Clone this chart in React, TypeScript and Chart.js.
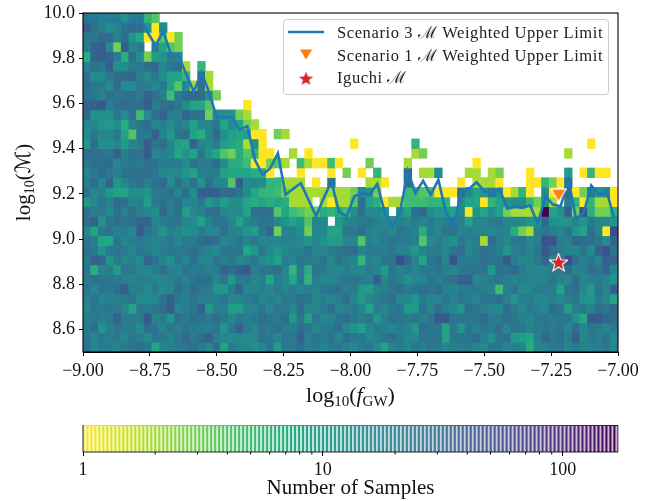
import React, { useEffect, useRef } from "react";
import { Chart, registerables } from "chart.js";
Chart.register(...registerables);

const FONT = '"Liberation Serif", serif';
const colCount = 70;
const xLimits = [-9, -7];
const yLimits = [8.5, 10];
const xTicks = [-9, -8.75, -8.5, -8.25, -8, -7.75, -7.5, -7.25, -7];
const yTicks = [8.6, 8.8, 9.0, 9.2, 9.4, 9.6, 9.8, 10.0];
const cbarTicks = [1, 10, 100];
const cbarMax = 170;

// sample counts, top row first, left column first; 0 = empty cell
const row00 = [24,22,18,18,20,12,20,22,6,4];
const row01 = [38,25,18,15,17,25,28,26,13,1, 15];
const row02 = [22,22,28,28,18,26,12,8,1,1, 4,1,3];
const row03 = [20,32,38,15,3,36,16,20,0,18, 8,4,3];
const row04 = [7,32,36,32,20,7,26,14,3,10, 12,20,16];
const row05 = [18,25,22,38,13,14,20,22,26,30, 16,22,25,2,0,6];
const row06 = [25,15,15,22,26,28,32,18,15,22, 14,9,9,6,0,28,2];
const row07 = [28,22,20,15,28,15,15,22,20,16, 22,9,4,15,2,25,2];
const row08 = [25,22,18,26,22,25,26,22,32,26, 18,5,20,28,30,28,15,3];
const row09 = [32,36,42,20,25,28,25,26,38,20, 25,28,22,14,9,8,4,0,0,0, 0,1];
const row10 = [32,13,13,13,22,15,25,5,15,26, 34,20,18,32,25,25,3,15,13,13, 3,2];
const row11 = [16,16,12,11,15,7,18,22,28,16, 18,14,20,16,9,16,16,22,8,15, 8,3,2];
const row12 = [14,22,16,16,22,9,4,22,20,36, 17,11,22,26,9,7,16,28,13,9, 8,10,1,1,0,3,2];
const row13 = [11,28,14,14,16,11,16,20,38,22, 28,16,10,9,34,17,14,20,10,8, 7,2,13,1,0,0,0,0,0,0, 0,0,0,0,0,1,0,0,0,0, 0,0,0,6,0,0,0,0,0,0, 0,0,0,0,0,0,0,0,0,0, 0,0,0,0,0,0,1];
const row14 = [28,26,25,22,34,18,25,25,38,16, 18,16,8,12,9,22,12,8,4,3, 7,4,6,1,1,0,0,2,0,1, 0,0,0,0,0,0,0,0,0,0, 0,0,0,2,3,0,0,0,0,0, 0,0,0,0,0,0,0,0,0,0, 0,0,0,2];
const row15 = [22,25,25,28,16,20,22,20,26,25, 20,20,20,15,25,20,20,28,14,7, 7,5,1,1,3,4,2,0,5,2, 1,1,5,1,0,0,0,3,0,0, 0,0,2,0,0,0,0,0,0,0, 0,1];
const row16 = [16,22,28,22,18,25,25,28,26,22, 16,14,16,12,9,18,20,18,9,8, 8,9,7,7,1,0,0,0,1,0, 0,0,1,0,3,0,1,0,6,0, 0,0,30,0,2,2,14,0,0,0, 2,2,0,2,3,0,0,0,1,0, 0,0,0,10,0,1,6,1,1];
const row17 = [20,28,16,32,12,16,22,25,18,25, 28,14,25,16,25,12,25,16,16,4, 38,14,16,14,6,6,2,2,2,0, 1,0,25,0,0,0,0,2,2,1, 0,0,25,0,0,0,0,0,0,1, 0,2,2,2,1,0,0,0,1,1, 6,3,1,25];
const row18 = [25,16,18,11,9,9,14,15,12,20, 22,25,16,26,14,36,36,33,26,30, 22,15,8,6,6,5,3,2,2,2, 2,2,2,2,2,3,15,12,3,0, 0,0,5,5,4,4,1,1,1,26, 15,9,12,20,14,1,2,6,1,0, 15,1,0,30,1,3,20,12,15,1];
const row19 = [11,16,22,18,30,25,16,18,10,20, 25,20,25,16,16,22,11,15,10,14, 14,8,7,9,7,8,7,2,2,2, 0,2,1,2,2,4,25,9,7,1, 2,2,5,5,5,6,6,6,0,15, 8,8,1,6,9,12,14,14,6,3, 12,2,0,20,6,1,6,2,2,1];
const row20 = [25,20,22,15,25,18,25,18,16,14, 30,20,25,10,16,18,25,26,16,14, 15,9,25,28,25,4,8,5,4,3, 3,7,6,8,5,14,25,15,15,12, 0,14,9,25,30,14,12,10,9,15, 1,12,8,14,9,3,2,2,2,2, 170,8,12,36,3,50,7,3,3,6];
const row21 = [26,32,12,23,26,23,26,32,32,17, 20,23,23,16,15,9,17,23,23,16, 9,17,20,23,23,16,12,9,11,4, 17,16,0,11,16,19,20,23,19,17, 15,17,16,20,17,21,16,19,23,19, 9,16,17,19,21,16,16,15,12,11, 30,13,12,12,17,12,20,16,15,12];
const row22 = [17,9,21,24,19,18,16,38,23,19, 12,19,16,13,15,20,16,16,26,17, 16,12,10,21,32,3,17,19,13,3, 17,16,9,9,23,21,26,17,16,19, 15,23,20,17,7,20,16,23,24,17, 19,16,17,15,19,16,7,3,2,19, 23,19,16,23,12,9,26,17,1,50];
const row23 = [23,19,8,8,23,16,19,21,18,16, 19,21,16,21,20,26,30,26,16,19, 23,17,21,16,16,16,19,17,15,12, 16,12,10,10,16,17,4,18,16,21, 23,21,21,19,4,15,19,16,12,23, 17,19,2,26,19,16,21,23,16,19, 45,45,20,19,30,26,26,23,15,32];
const row24 = [26,21,12,21,23,21,16,23,20,16, 20,23,21,23,26,21,17,15,23,23, 23,8,12,23,16,12,15,19,17,23, 17,17,20,23,26,26,17,21,20,19, 23,17,16,11,17,21,20,16,23,26, 16,20,26,23,19,12,19,21,17,23, 40,26,20,17,16,23,15,32,45,23];
const row25 = [21,35,30,12,20,16,19,15,32,23, 17,13,21,16,26,16,16,23,19,21, 16,19,23,15,13,9,20,17,23,21, 19,23,16,23,19,17,6,19,16,23, 23,50,30,16,8,23,26,16,45,20, 20,21,26,23,23,38,20,16,16,21, 32,17,23,50,26,18,23,16,35,32];
const row26 = [23,7,16,20,10,23,21,17,16,21, 26,19,16,23,20,21,19,20,33,26, 36,40,19,23,23,26,16,6,21,7, 23,20,17,16,19,16,16,20,16,11, 23,17,20,16,21,20,23,19,16,21, 23,24,23,11,26,23,30,20,17,16, 17,20,21,26,17,19,26,23,30,16];
const row27 = [20,24,23,23,20,19,16,20,19,16, 16,19,21,17,23,26,26,16,23,11, 20,21,16,18,8,19,16,8,20,6, 19,16,16,19,21,23,20,19,36,16, 23,19,12,16,17,23,19,23,26,35, 35,16,19,21,23,19,16,19,17,16, 17,23,19,16,26,16,19,20,16,12];
const row28 = [23,16,23,21,26,36,18,19,15,21, 15,16,26,20,26,23,20,12,11,20, 32,16,17,19,16,21,16,20,16,19, 17,23,23,26,19,20,11,10,17,19, 23,26,20,23,26,23,26,19,17,20, 20,21,20,16,5,19,23,15,16,20, 21,19,9,23,26,16,11,23,16,34];
const row29 = [19,23,16,19,20,21,23,15,15,16, 23,36,21,19,23,19,20,19,23,16, 17,20,23,16,19,16,21,20,26,23, 17,19,16,19,26,16,11,16,19,23, 26,16,16,12,21,17,16,23,19,23, 20,17,23,23,26,19,12,19,20,16, 16,19,16,20,23,13,12,20,16,9];
const row30 = [16,23,21,23,21,17,9,20,21,23, 26,38,16,19,23,35,11,18,20,10, 10,16,17,23,16,23,21,17,26,16, 17,20,26,16,19,21,16,9,19,16, 21,23,11,11,23,16,26,18,16,12, 26,23,19,16,15,26,20,16,21,19, 16,26,23,10,19,21,17,26,23,30];
const row31 = [20,21,19,20,36,21,20,21,40,16, 20,12,26,21,26,23,21,26,21,16, 23,19,21,26,23,21,26,11,23,10, 23,16,16,23,26,21,19,23,12,18, 26,23,20,23,19,23,40,40,23,23, 21,24,30,20,21,26,23,18,16,21, 23,20,23,21,13,8,40,40,30,26];
const row32 = [21,26,12,19,23,20,21,15,26,23, 16,23,19,23,21,20,19,23,12,21, 35,20,16,23,21,26,20,19,26,23, 17,21,21,26,16,13,10,16,21,19, 16,20,19,11,26,23,23,9,21,12, 23,19,23,20,26,16,23,21,17,20, 23,20,23,16,26,16,23,20,16,21];
const row33 = [23,16,21,19,21,16,23,20,15,23, 21,16,23,30,21,26,35,19,16,15, 16,15,16,26,21,16,23,21,35,19, 23,20,24,16,26,23,21,16,19,23, 26,21,16,16,23,23,23,9,21,23, 23,26,19,13,23,26,11,10,8,19, 30,21,26,19,35,16,21,19,23,15];
const row34 = [26,16,21,20,16,21,23,26,23,8, 16,19,21,23,26,21,16,26,9,20, 16,16,13,16,23,10,23,21,26,19, 21,16,20,23,19,16,20,23,16,9, 17,21,16,23,19,23,20,16,19,20, 20,16,15,23,21,16,19,16,7,16, 18,21,23,16,20,17,19,20,23,16];
const rows = [row00,row01,row02,row03,row04,row05,row06,row07,row08,row09,row10,row11,row12,row13,row14,row15,row16,row17,row18,row19,row20,row21,row22,row23,row24,row25,row26,row27,row28,row29,row30,row31,row32,row33,row34];

// Scenario 3 upper limit, one value per column
const scenario3 = [9.968,9.982,9.993,9.963,9.971,9.949,9.959,9.971,9.912,9.857,
  9.92,9.817,9.81,9.73,9.652,9.737,9.649,9.539,9.539,9.539,
  9.484,9.5,9.349,9.284,9.313,9.379,9.196,9.222,9.247,9.174,
  9.101,9.181,9.254,9.12,9.101,9.189,9.203,9.196,9.243,9.115,
  9.053,9.123,9.301,9.203,9.257,9.196,9.262,9.115,9.057,9.208,
  9.222,9.251,9.213,9.2,9.222,9.135,9.142,9.137,9.149,9.067,
  9.189,9.152,9.145,9.266,9.091,9.115,9.237,9.196,9.211,9.094];
const scenario1Point = { x: -7.222, y: 9.197 };
const iguchiPoint = { x: -7.222, y: 8.896 };

const viridisStops = ["#440154","#482475","#414487","#355f8d","#2a788e","#21918c","#22a884","#44bf70","#7ad151","#bddf26","#fde725"];
function hexRgb(h: string) { return [1,3,5].map((i) => parseInt(h.slice(i, i + 2), 16)); }
function colorFor(v: number) {
  const t = 1 - Math.min(1, Math.log(v) / Math.log(cbarMax)); // reversed viridis, log norm
  const p = t * 10, i = Math.min(9, Math.floor(p)), f = p - i;
  const a = hexRgb(viridisStops[i]), b = hexRgb(viridisStops[i + 1]);
  return `rgb(${a.map((c, k) => Math.round(c + (b[k] - c) * f)).join(",")})`;
}

function markerCanvas(kind: "star" | "tri", size: number, fill: string, edge: number) {
  const c = document.createElement("canvas");
  c.width = size; c.height = size;
  const g = c.getContext("2d")!;
  const m = size / 2, R = size / 2 - edge;
  g.beginPath();
  if (kind === "star") {
    for (let i = 0; i < 10; i++) {
      const r = i % 2 ? R * 0.42 : R, a = -Math.PI / 2 + (i * Math.PI) / 5;
      g[i ? "lineTo" : "moveTo"](m + r * Math.cos(a), m + r * Math.sin(a) + 0.5);
    }
  } else {
    g.moveTo(m - R, m - R * 0.75); g.lineTo(m + R, m - R * 0.75); g.lineTo(m, m + R * 0.95);
  }
  g.closePath();
  if (edge > 0) { g.lineJoin = "miter"; g.strokeStyle = "#fff"; g.lineWidth = edge * 1.4; g.stroke(); }
  g.fillStyle = fill; g.fill();
  return c;
}

function drawRuns(ctx: CanvasRenderingContext2D, x: number, y: number, runs: [string, string, number][]) {
  let cx = x;
  ctx.textAlign = "left"; ctx.textBaseline = "alphabetic";
  runs.forEach(([t, f, dy]) => { ctx.font = f; ctx.fillText(t, cx, y + dy); cx += ctx.measureText(t).width; });
  return cx - x;
}
function runsWidth(ctx: CanvasRenderingContext2D, runs: [string, string, number][]) {
  let w = 0; runs.forEach(([t, f]) => { ctx.font = f; w += ctx.measureText(t).width; }); return w;
}

const xTitleRuns: [string, string, number][] = [
  ["log", `22px ${FONT}`, 0], ["10", `15px ${FONT}`, 4], ["(", `22px ${FONT}`, 0],
  ["f", `italic 22px ${FONT}`, 0], ["GW", `15px ${FONT}`, 4], [")", `22px ${FONT}`, 0],
];
const yTitleRuns: [string, string, number][] = [
  ["log", `21px ${FONT}`, 0], ["10", `14px ${FONT}`, 4], ["(", `21px ${FONT}`, 0],
  ["ℳ", `21px "DejaVu Sans", ${FONT}`, 0], [")", `21px ${FONT}`, 0],
];
const legendLabels = ["Scenario 3 ℳ Weighted Upper Limit", "Scenario 1 ℳ Weighted Upper Limit", "Iguchi ℳ"];

export default function App() {
  const mainRef = useRef<HTMLCanvasElement>(null);
  const cbarRef = useRef<HTMLCanvasElement>(null);
  useEffect(() => {
    const dx = (xLimits[1] - xLimits[0]) / colCount;
    const dy = (yLimits[1] - yLimits[0]) / rows.length;
    const centre = (j: number) => xLimits[0] + (j + 0.5) * dx;
    const starImg = markerCanvas("star", 19, "#d62728", 1.6);
    const triImg = markerCanvas("tri", 16, "#ff7f0e", 1.5);
    const starLegend = markerCanvas("star", 15, "#d62728", 0);
    const triLegend = markerCanvas("tri", 12, "#ff7f0e", 0);

    const cellSets: any[] = rows.map((row, r) => {
      const top = yLimits[1] - r * dy;
      const cells = row.map((v, j) => ({ v, x: centre(j), y: [top - dy, top] })).filter((c) => c.v > 0);
      return {
        type: "bar", order: 3, data: cells, backgroundColor: cells.map((c) => colorFor(c.v)),
        borderWidth: 0, grouped: false, categoryPercentage: 1, barPercentage: 1,
      };
    });

    const frameAndLegend = {
      id: "frameAndLegend",
      afterDraw(chart: any) {
        const { ctx, chartArea: a } = chart;
        ctx.save();
        ctx.strokeStyle = "#000"; ctx.lineWidth = 1.1;
        ctx.strokeRect(a.left, a.top, a.right - a.left, a.bottom - a.top);
        // legend
        const lx = 283.5, ly = 19.5, lw = 325, lh = 75;
        ctx.fillStyle = "rgba(255,255,255,0.8)"; ctx.strokeStyle = "#ccc"; ctx.lineWidth = 1;
        ctx.beginPath(); ctx.roundRect(lx, ly, lw, lh, 3); ctx.fill(); ctx.stroke();
        ctx.strokeStyle = "#1f77b4"; ctx.lineWidth = 2.5;
        ctx.beginPath(); ctx.moveTo(288, 32); ctx.lineTo(324, 32); ctx.stroke();
        ctx.drawImage(triLegend, 300, 48);
        ctx.drawImage(starLegend, 298.5, 71);
        ctx.fillStyle = "#222"; ctx.textAlign = "left"; ctx.textBaseline = "alphabetic";
        ctx.font = `16.5px ${FONT}`;
        (ctx as any).letterSpacing = "0.6px";
        legendLabels.forEach((t, i) => ctx.fillText(t, 337, 38 + i * 22.7));
        (ctx as any).letterSpacing = "0px";
        // axis titles
        ctx.fillStyle = "#111";
        const xw = runsWidth(ctx, xTitleRuns);
        drawRuns(ctx, (a.left + a.right) / 2 - xw / 2, 402, xTitleRuns);
        ctx.save();
        ctx.translate(30, (a.top + a.bottom) / 2);
        ctx.rotate(-Math.PI / 2);
        const yw = runsWidth(ctx, yTitleRuns);
        drawRuns(ctx, -yw / 2, 0, yTitleRuns);
        ctx.restore();
        ctx.restore();
      },
    };

    const main = new Chart(mainRef.current!, {
      type: "bar",
      data: {
        datasets: [
          { type: "scatter", order: 0, data: [iguchiPoint], pointStyle: starImg, pointRadius: 12, showLine: false },
          { type: "scatter", order: 1, data: [scenario1Point], pointStyle: triImg, pointRadius: 10, showLine: false },
          { type: "line", order: 2, data: scenario3.map((y, j) => ({ x: centre(j), y })), borderColor: "#1f77b4", borderWidth: 2.6, pointRadius: 0, tension: 0, borderJoinStyle: "miter" },
          ...cellSets,
        ] as any,
      },
      options: {
        responsive: false, animation: false, events: [],
        layout: { padding: { left: 0, right: 39, top: 10, bottom: 0 } },
        plugins: { legend: { display: false }, tooltip: { enabled: false } },
        scales: {
          x: {
            type: "linear", min: xLimits[0], max: xLimits[1], offset: false,
            grid: { display: true, offset: false, drawOnChartArea: false, tickLength: 4, tickColor: "#000" },
            border: { display: true, color: "#000" },
            afterBuildTicks: (s: any) => { s.ticks = xTicks.map((value) => ({ value })); },
            afterFit: (s: any) => { s.height = 58; s.paddingLeft = 0; s.paddingRight = 0; },
            ticks: { autoSkip: false, maxRotation: 0, padding: 4, color: "#111", font: { family: FONT, size: 18 },
              callback: (v: any) => Number(v).toFixed(2).replace("-", "−") },
          },
          y: {
            type: "linear", min: yLimits[0], max: yLimits[1],
            grid: { display: true, drawOnChartArea: false, tickLength: 4, tickColor: "#000" },
            border: { display: true, color: "#000" },
            afterBuildTicks: (s: any) => { s.ticks = yTicks.map((value) => ({ value })); },
            afterFit: (s: any) => { s.width = 83; s.paddingTop = 0; s.paddingBottom = 0; },
            ticks: { autoSkip: false, padding: 4, color: "#111", font: { family: FONT, size: 18 },
              callback: (v: any) => Number(v).toFixed(1) },
          },
        },
      } as any,
      plugins: [frameAndLegend],
    });

    const cbarPaint = {
      id: "cbarPaint",
      beforeDatasetsDraw(chart: any) {
        const { ctx, chartArea: a, scales } = chart;
        const s = scales.x;
        const n = 134;
        ctx.save();
        for (let i = 0; i < n; i++) {
          const v0 = Math.pow(cbarMax, i / n), v1 = Math.pow(cbarMax, (i + 1) / n);
          const x0 = s.getPixelForValue(v0), x1 = s.getPixelForValue(v1);
          ctx.fillStyle = colorFor(Math.sqrt(v0 * v1));
          ctx.fillRect(x0, a.top, x1 - x0 + 0.3, a.bottom - a.top);
          ctx.fillStyle = "rgba(255,255,255,0.72)";
          ctx.fillRect(x0 + 1.4, a.top + 1, 2.0, a.bottom - a.top - 1);
        }
        // minor log ticks
        ctx.strokeStyle = "#000"; ctx.lineWidth = 1;
        [1, 10, 100].forEach((d) => {
          for (let k = 2; k < 10; k++) {
            const v = d * k;
            if (v > cbarMax) continue;
            const x = s.getPixelForValue(v);
            ctx.beginPath(); ctx.moveTo(x, a.bottom); ctx.lineTo(x, a.bottom + 2.5); ctx.stroke();
          }
        });
        ctx.strokeStyle = "rgba(0,0,0,0.85)"; ctx.lineWidth = 1;
        ctx.beginPath(); ctx.moveTo(a.left, a.top); ctx.lineTo(a.left, a.bottom); ctx.lineTo(a.right, a.bottom); ctx.stroke();
        ctx.restore();
      },
    };

    const cbar = new Chart(cbarRef.current!, {
      type: "bar",
      data: { datasets: [] },
      options: {
        responsive: false, animation: false, events: [],
        layout: { padding: { left: 83, right: 39, top: 15, bottom: 0 } },
        plugins: { legend: { display: false }, tooltip: { enabled: false } },
        scales: {
          y: { display: false },
          x: {
            type: "logarithmic", min: 1, max: cbarMax, offset: false,
            grid: { display: true, offset: false, drawOnChartArea: false, tickLength: 4, tickColor: "#000" },
            border: { display: false },
            afterBuildTicks: (s: any) => { s.ticks = cbarTicks.map((value) => ({ value })); },
            afterFit: (s: any) => { s.height = 49; s.paddingLeft = 0; s.paddingRight = 0; },
            ticks: { autoSkip: false, maxRotation: 0, padding: 3, color: "#111", font: { family: FONT, size: 18 }, callback: (v: any) => String(v) },
            title: { display: true, text: "Number of Samples", color: "#111", font: { family: FONT, size: 21 }, padding: { top: 1, bottom: 0 } },
          },
        },
      } as any,
      plugins: [cbarPaint],
    });
    return () => { main.destroy(); cbar.destroy(); };
  }, []);
  return (
    <div style={{ position: "fixed", left: 0, top: 0, width: 657, height: 501, background: "#fff", overflow: "hidden" }}>
      <canvas ref={mainRef} width={657} height={410} style={{ position: "absolute", left: 0, top: 0, display: "block" }} />
      <canvas ref={cbarRef} width={657} height={91} style={{ position: "absolute", left: 0, top: 410, display: "block" }} />
    </div>
  );
}
